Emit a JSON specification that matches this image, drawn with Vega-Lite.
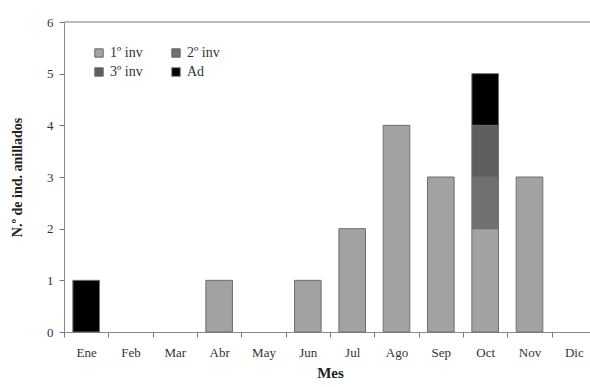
{
  "$schema": "https://vega.github.io/schema/vega-lite/v6.json",
  "width": 532,
  "height": 310,
  "autosize": "none",
  "padding": {"left": 64, "top": 22, "right": 0, "bottom": 55},
  "background": "white",
  "config": {
    "view": {"stroke": null},
    "font": "Liberation Serif",
    "axis": {"labelFont": "Liberation Serif", "titleFont": "Liberation Serif", "labelFontSize": 13, "titleFontSize": 14, "titleFontWeight": "bold", "labelColor": "#333", "titleColor": "#222", "domainColor": "#8a8a8a", "tickColor": "#777", "grid": false}
  },
  "data": {"values": [
    {"mes": "Ene", "clase": "Ad", "n": 1, "o": 4},
    {"mes": "Abr", "clase": "1º inv", "n": 1, "o": 1},
    {"mes": "Jun", "clase": "1º inv", "n": 1, "o": 1},
    {"mes": "Jul", "clase": "1º inv", "n": 2, "o": 1},
    {"mes": "Ago", "clase": "1º inv", "n": 4, "o": 1},
    {"mes": "Sep", "clase": "1º inv", "n": 3, "o": 1},
    {"mes": "Oct", "clase": "1º inv", "n": 2, "o": 1},
    {"mes": "Oct", "clase": "2º inv", "n": 1, "o": 2},
    {"mes": "Oct", "clase": "3º inv", "n": 1, "o": 3},
    {"mes": "Oct", "clase": "Ad", "n": 1, "o": 4},
    {"mes": "Nov", "clase": "1º inv", "n": 3, "o": 1}
  ]},
  "layer": [
    {
      "mark": {"type": "bar", "stroke": "#6e6e6e", "strokeWidth": 1},
      "encoding": {
        "x": {"field": "mes", "type": "nominal", "sort": ["Ene","Feb","Mar","Abr","May","Jun","Jul","Ago","Sep","Oct","Nov","Dic"],
          "scale": {"domain": ["Ene","Feb","Mar","Abr","May","Jun","Jul","Ago","Sep","Oct","Nov","Dic"], "paddingInner": 0.4, "paddingOuter": 0.2},
          "axis": {"title": "Mes", "labelAngle": 0, "ticks": true, "tickSize": 5, "tickWidth": 1, "tickOffset": -22.17, "labelOffset": 22.17, "labelPadding": 9, "titlePadding": 6, "titleFontSize": 15}},
        "y": {"field": "n", "type": "quantitative", "aggregate": "sum",
          "scale": {"domain": [0, 6]},
          "axis": {"title": "N.º de ind. anillados", "values": [0,1,2,3,4,5,6], "tickSize": 5, "labelPadding": 6, "titlePadding": 22}},
        "color": {"field": "clase", "type": "nominal",
          "scale": {"domain": ["1º inv", "2º inv", "3º inv", "Ad"], "range": ["#a2a2a2", "#707070", "#5e5e5e", "#000000"]},
          "legend": {"title": null, "orient": "none", "legendX": 28, "legendY": 24, "direction": "horizontal", "columns": 2, "columnPadding": 26, "rowPadding": 5, "symbolType": "square", "symbolSize": 70, "symbolStrokeColor": "#666", "symbolStrokeWidth": 1, "labelFont": "Liberation Serif", "labelFontSize": 14, "labelColor": "#333", "labelOffset": 4}},
        "order": {"field": "o", "type": "quantitative"}
      }
    },
    {
      "mark": {"type": "rule", "color": "#bbb", "strokeWidth": 1.5},
      "encoding": {"y": {"datum": 6}}
    }
  ]
}
